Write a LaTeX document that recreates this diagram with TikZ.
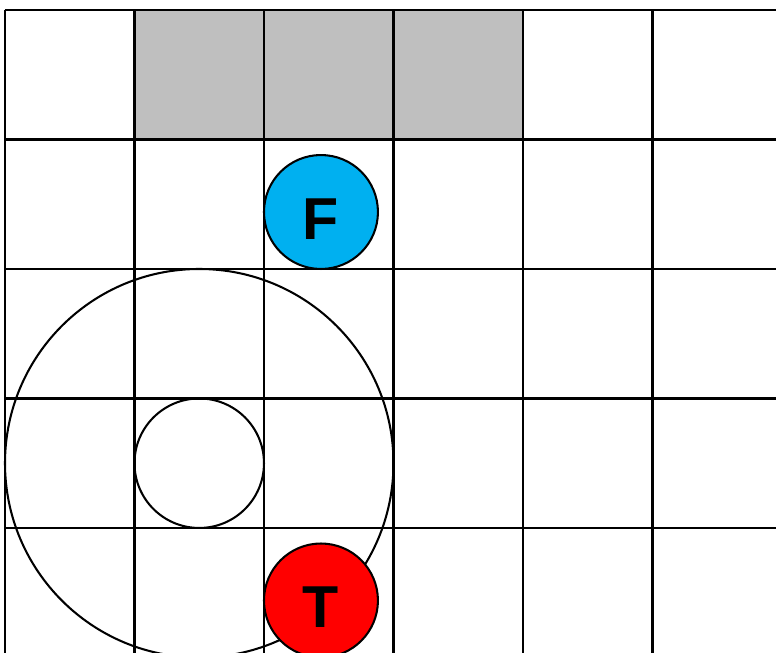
\documentclass[tikz,border=0pt]{standalone}
\usepackage{fontspec}
\setmainfont{Liberation Sans}
\usepackage{xcolor}
\usepackage{tikz}
\usetikzlibrary{positioning}
\definecolor{finder}{RGB}{0, 176, 240}
\definecolor{target}{RGB}{255, 0, 0}
\definecolor{wall}{RGB}{191, 191, 191}
\tikzset{
    gridline/.style={draw=black, line width=0.5pt},
    blocked/.style={fill=wall},
    agent/.style={circle, draw=black, line width=0.45pt, minimum size=0.88cm, inner sep=0pt, text centered, text height=11.9pt, text depth=0pt, font=\fontsize{13}{15}\selectfont\bfseries},
    ring/.style={circle, draw=black, line width=0.45pt, inner sep=0pt}
}

\begin{document}
\begin{tikzpicture}
        \useasboundingbox (-0.0386,0.0772) rectangle (5.954,-4.958);
        \clip (-0.0386,0.0772) rectangle (5.954,-4.958);

        % Blocked cells
        \fill [blocked] (1,0) rectangle (4,-1);

        % Grid
        \draw [gridline] (0,0) grid (6.5,-5.5);

        % Sensing range
        \node [ring, minimum size=3cm] (range) at (1.5,-3.5) {};
        \node [ring, minimum size=1cm] (core) at (range.center) {};

        % Agents
        \node [agent, fill=finder] (finder) at (2.44,-1.56) {F};
        \node [agent, fill=target] (target) at (2.44,-4.56) {T};

    \end{tikzpicture}
\end{document}
